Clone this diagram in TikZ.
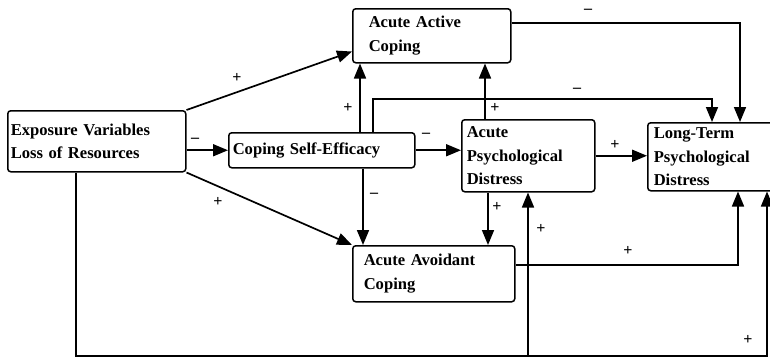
\documentclass[tikz,border=0pt]{standalone}
\usepackage{fontspec}
\setmainfont{Liberation Serif}
\usetikzlibrary{arrows.meta}
\begin{document}
\begin{tikzpicture}[x=1pt,y=-1pt,
  box/.style={draw, line width=1.5pt, rounded corners=3pt, align=left,
    font=\fontsize{16.6}{23.5}\selectfont\bfseries, anchor=north west, inner ysep=0pt},
  arr/.style={line width=1.7pt, -{Triangle[length=15pt,width=12pt]}},
  lab/.style={font=\fontsize{16}{16}\selectfont\bfseries, inner sep=0pt}]
\useasboundingbox (0,0) rectangle (770,359);
\clip (0,0) rectangle (770,359);
% boxes
\node[box, minimum width=178pt, minimum height=61pt, inner xsep=3pt, text width=172pt] (exp) at (7,110) {Exposure Variables\\Loss of Resources};
\node[box, minimum width=158pt, minimum height=54pt, inner xsep=16pt, text width=126pt] (act) at (352,8) {Acute Active\\Coping};
\node[box, minimum width=186pt, minimum height=35pt, inner xsep=4pt, text width=178pt] (cse) at (228,132) {Coping Self-Efficacy};
\node[box, minimum width=133pt, minimum height=72pt, inner xsep=5pt, text width=123pt] (apd) at (461,119) {Acute\\Psychological\\Distress};
\node[box, minimum width=160pt, minimum height=68pt, inner xsep=6pt, text width=148pt] (lt) at (647,122) {Long-Term\\Psychological\\Distress};
\node[box, minimum width=162pt, minimum height=56pt, inner xsep=11pt, text width=140pt] (avd) at (352,245) {Acute Avoidant\\Coping};
% helper coordinates
\coordinate (bl) at (76,356);
\coordinate (br) at (767,356);
\coordinate (bm) at (528,356);
\coordinate (c740) at (740,23);
\coordinate (c373) at (373,99);
\coordinate (c712) at (712,99);
\coordinate (c360) at (360,0);
\coordinate (c363) at (363,0);
\coordinate (c485) at (485,0);
\coordinate (c488) at (488,0);
\coordinate (c738) at (738,265);
% connectors
\draw[arr] (exp.north east) -- ([yshift=12pt]act.south west);
\draw[arr] (exp.east |- cse.west) -- (cse.west);
\draw[arr] (exp.south east) -- (avd.north west);
\draw[arr] (exp.south -| bl) -- (bl) -- (br) -- (br |- lt.south);
\draw[arr] (bm) -- (bm |- apd.south);
\draw[arr] (act.east |- c740) -- (c740) -- (c740 |- lt.north);
\draw[arr] (cse.north -| c373) -- (c373) -- (c712) -- (c712 |- lt.north);
\draw[arr] (cse.north -| c360) -- (act.south -| c360);
\draw[arr] (cse.east) -- (apd.west |- cse.east);
\draw[arr] (cse.south -| c363) -- (avd.north -| c363);
\draw[arr] (apd.north -| c485) -- (act.south -| c485);
\draw[arr] (apd.east) -- (lt.west |- apd.east);
\draw[arr] (apd.south -| c488) -- (avd.north -| c488);
\draw[arr] (avd.east |- c738) -- (c738) -- (c738 |- lt.south);
% labels
\node[lab] (l1) at (237,78) {+};
\node[lab] (l2) at (195,140) {–};
\node[lab] (l3) at (218,202) {+};
\node[lab] (l4) at (588,11) {–};
\node[lab] (l5) at (577,90) {–};
\node[lab] (l6) at (348,108) {+};
\node[lab] (l7) at (495,108) {+};
\node[lab] (l8) at (426,135) {–};
\node[lab] (l9) at (374,195) {–};
\node[lab] (l10) at (615,145) {+};
\node[lab] (l11) at (497,207) {+};
\node[lab] (l12) at (541,229) {+};
\node[lab] (l13) at (628,251) {+};
\node[lab] (l14) at (748,340) {+};
\end{tikzpicture}
\end{document}
